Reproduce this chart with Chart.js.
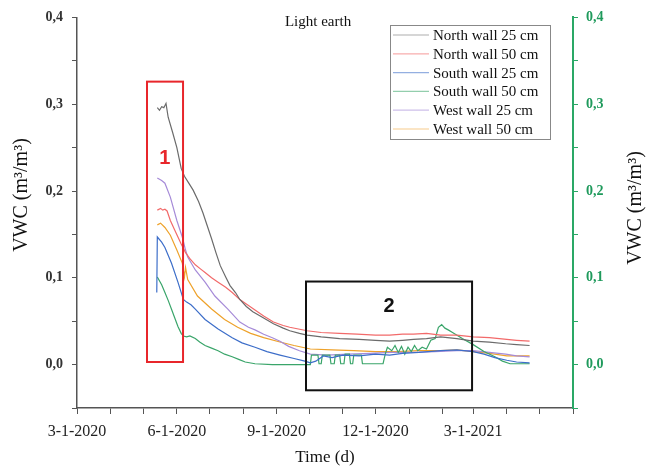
<!DOCTYPE html>
<html>
<head>
<meta charset="utf-8">
<script src="https://cdn.jsdelivr.net/npm/chart.js@4.4.0/dist/chart.umd.min.js"></script>
<style>
    body { margin: 0; background: #fff; }
    #wrap { width: 652px; height: 472px; }
</style>
</head>
<body>
<div id="wrap"><canvas id="myChart" width="652" height="472"></canvas></div>
<script>
// x values are days since 3-1-2020
const seriesNames = ['North wall 25 cm', 'North wall 50 cm', 'South wall 25 cm', 'South wall 50 cm', 'West wall 25 cm', 'West wall 50 cm'];

const northWall25Days = [74, 76, 78, 80, 82, 84, 88, 92, 96, 99, 103, 107, 112, 116, 120, 124, 128, 132, 137, 141, 146, 150, 156, 162, 170, 181, 190, 196, 205, 212, 225, 242, 260, 275, 288, 300, 310, 322, 335, 350, 365, 380, 395, 405, 417];
const northWall25 = [0.296, 0.293, 0.297, 0.296, 0.301, 0.285, 0.268, 0.250, 0.226, 0.217, 0.209, 0.201, 0.188, 0.175, 0.160, 0.145, 0.129, 0.114, 0.101, 0.091, 0.083, 0.075, 0.067, 0.061, 0.055, 0.047, 0.042, 0.039, 0.036, 0.034, 0.032, 0.030, 0.029, 0.028, 0.027, 0.028, 0.029, 0.030, 0.032, 0.030, 0.027, 0.026, 0.024, 0.023, 0.022];

const northWall50Days = [74, 77, 79, 81, 83, 86, 90, 93, 96, 100, 104, 109, 114, 118, 124, 130, 137, 143, 150, 157, 164, 172, 181, 190, 196, 204, 212, 225, 242, 258, 275, 288, 300, 310, 322, 335, 350, 365, 380, 396, 405, 417];
const northWall50 = [0.178, 0.180, 0.178, 0.179, 0.177, 0.166, 0.155, 0.147, 0.139, 0.129, 0.122, 0.115, 0.110, 0.106, 0.100, 0.095, 0.089, 0.083, 0.075, 0.069, 0.063, 0.056, 0.049, 0.045, 0.043, 0.041, 0.039, 0.037, 0.036, 0.035, 0.034, 0.034, 0.035, 0.035, 0.036, 0.034, 0.034, 0.032, 0.031, 0.029, 0.028, 0.027];

const southWall25Days = [73.5, 74, 78, 81, 87, 93, 98, 101, 105, 109, 118, 130, 143, 152, 164, 175, 187, 200, 210, 215, 220, 227, 235, 245, 260, 275, 288, 300, 315, 335, 350, 365, 375, 385, 396, 405, 417];
const southWall25 = [0.083, 0.147, 0.141, 0.135, 0.117, 0.095, 0.075, 0.072, 0.069, 0.064, 0.052, 0.041, 0.031, 0.025, 0.020, 0.015, 0.011, 0.007, 0.004, 0.002, 0.004, 0.010, 0.008, 0.011, 0.010, 0.012, 0.011, 0.013, 0.014, 0.016, 0.017, 0.015, 0.012, 0.008, 0.005, 0.003, 0.002];

const southWall50Days = [74, 78, 81, 84, 87, 90, 93, 96, 98, 101, 104, 109, 113, 118, 124, 130, 136, 143, 149, 155, 164, 180, 200, 214, 215, 216, 222, 223, 225, 226, 233, 234, 237, 238, 242, 243, 246, 247, 251, 252, 254, 255, 262, 263, 282, 284, 286, 290, 293, 296, 299, 302, 305, 308, 311, 314, 318, 322, 326, 330, 333, 336, 339, 342, 346, 355, 365, 375, 385, 392, 399, 410, 417];
const southWall50 = [0.101, 0.092, 0.083, 0.074, 0.064, 0.054, 0.044, 0.036, 0.033, 0.032, 0.033, 0.030, 0.026, 0.022, 0.019, 0.016, 0.012, 0.009, 0.006, 0.003, 0.001, 0.000, 0.000, 0.000, 0.000, 0.011, 0.011, 0.001, 0.001, 0.011, 0.011, 0.001, 0.001, 0.011, 0.011, 0.001, 0.001, 0.012, 0.012, 0.001, 0.001, 0.011, 0.011, 0.001, 0.001, 0.012, 0.020, 0.016, 0.022, 0.014, 0.021, 0.012, 0.020, 0.015, 0.022, 0.016, 0.020, 0.018, 0.028, 0.030, 0.043, 0.046, 0.042, 0.040, 0.037, 0.030, 0.023, 0.015, 0.009, 0.004, 0.001, 0.001, 0.001];

const westWall25Days = [74, 78, 81, 86, 92, 97, 100, 102, 109, 118, 127, 139, 150, 158, 164, 172, 180, 187, 195, 205, 215, 230, 250, 270, 290, 310, 330, 350, 365, 380, 395, 405, 417];
const westWall25 = [0.215, 0.212, 0.209, 0.193, 0.166, 0.147, 0.132, 0.124, 0.109, 0.095, 0.079, 0.064, 0.049, 0.043, 0.040, 0.035, 0.031, 0.027, 0.021, 0.016, 0.012, 0.011, 0.012, 0.013, 0.014, 0.014, 0.015, 0.016, 0.016, 0.014, 0.012, 0.010, 0.009];

const westWall50Days = [74, 77, 81, 86, 92, 97, 99, 100, 102, 111, 124, 136, 148, 160, 172, 187, 200, 215, 235, 255, 275, 295, 315, 335, 350, 365, 380, 396, 405, 417];
const westWall50 = [0.161, 0.163, 0.158, 0.149, 0.132, 0.117, 0.101, 0.112, 0.098, 0.079, 0.064, 0.052, 0.043, 0.036, 0.031, 0.026, 0.022, 0.018, 0.017, 0.016, 0.015, 0.015, 0.016, 0.016, 0.017, 0.015, 0.013, 0.010, 0.010, 0.010];

// month ticks (days since 3-1-2020) and the labelled ones
const monthTicks = [0, 31, 61, 92, 122, 153, 184, 214, 245, 275, 306, 337, 365, 396, 426, 457];
const labelDays = [0, 92, 184, 275, 365];
const tickLabels = ['3-1-2020', '6-1-2020', '9-1-2020', '12-1-2020', '3-1-2021'];

// highlighted regions: [xFrom, xTo, yFrom, yTo] in days / VWC
const region1 = [64.5, 97.7, 0.326, 0.003];
const region2 = [211, 364, 0.0957, -0.0296];

const serif = '"Liberation Serif", "Times New Roman", serif';
const colors = ['#6b6b6b', '#f26a6a', '#3d6ec9', '#3aa56a', '#a68bd8', '#eea22b'];
const yTitle = 'VWC (m³/m³)';

function toPoints(days, vals) {
    return days.map((d, i) => ({ x: d, y: vals[i] }));
}

const allDays = [northWall25Days, northWall50Days, southWall25Days, southWall50Days, westWall25Days, westWall50Days];
const allVals = [northWall25, northWall50, southWall25, southWall50, westWall25, westWall50];

const datasets = seriesNames.map((name, i) => ({
    label: name,
    data: toPoints(allDays[i], allVals[i]),
    borderColor: colors[i],
    borderWidth: 1.2,
    pointRadius: 0,
    tension: 0,
    fill: false,
    yAxisID: i === 3 ? 'y2' : 'y'
}));

function vwcLabel(v) {
    if (Math.abs(v * 10 - Math.round(v * 10)) > 1e-6 || v < -1e-6) return '';
    return v.toFixed(1).replace('.', ',');
}

const extras = {
    id: 'extras',
    afterDatasetsDraw(chart) {
        const ctx = chart.ctx;
        const xs = chart.scales.x, ys = chart.scales.y;
        const drawBox = (r, color) => {
            const x1 = xs.getPixelForValue(r[0]), x2 = xs.getPixelForValue(r[1]);
            const y1 = ys.getPixelForValue(r[2]), y2 = ys.getPixelForValue(r[3]);
            ctx.save();
            ctx.strokeStyle = color;
            ctx.lineWidth = 2;
            ctx.strokeRect(x1, y1, x2 - x1, y2 - y1);
            ctx.restore();
        };
        drawBox(region1, '#e8262b');
        drawBox(region2, '#111');

        ctx.save();
        ctx.font = 'bold 20px "Liberation Sans", Arial, sans-serif';
        ctx.textAlign = 'center';
        ctx.textBaseline = 'middle';
        ctx.fillStyle = '#e8262b';
        ctx.fillText('1', xs.getPixelForValue(81), ys.getPixelForValue(0.237));
        ctx.fillStyle = '#111';
        ctx.fillText('2', xs.getPixelForValue(287.5), ys.getPixelForValue(0.067));
        ctx.restore();
    },
    afterDraw(chart) {
        const ctx = chart.ctx;
        const area = chart.chartArea;
        ctx.save();
        // title
        ctx.font = '15px ' + serif;
        ctx.fillStyle = '#111';
        ctx.textAlign = 'center';
        ctx.textBaseline = 'middle';
        ctx.fillText('Light earth', area.left + (area.right - area.left) * 0.486, 22);

        // axis titles, both read bottom to top
        ctx.font = '20px ' + serif;
        [[22, 195], [636, 208]].forEach(p => {
            ctx.save();
            ctx.translate(p[0], p[1]);
            ctx.rotate(-Math.PI / 2);
            ctx.fillText(yTitle, 0, 0);
            ctx.restore();
        });

        // legend box
        const bx = 390, by = 25, bw = 160, bh = 114;
        ctx.strokeStyle = '#888';
        ctx.lineWidth = 1;
        ctx.strokeRect(bx + 0.5, by + 0.5, bw, bh);
        ctx.font = '15px ' + serif;
        ctx.textAlign = 'left';
        chart.data.datasets.forEach((ds, i) => {
            const y = by + 10 + i * 18.8;
            ctx.globalAlpha = 0.55;
            ctx.strokeStyle = ds.borderColor;
            ctx.lineWidth = 1.2;
            ctx.beginPath();
            ctx.moveTo(bx + 3, y);
            ctx.lineTo(bx + 39, y);
            ctx.stroke();
            ctx.globalAlpha = 1;
            ctx.fillStyle = '#111';
            ctx.fillText(ds.label, bx + 43, y + 1);
        });
        ctx.restore();
    }
};

new Chart(document.getElementById('myChart').getContext('2d'), {
    type: 'line',
    data: { datasets: datasets },
    options: {
        responsive: false,
        animation: false,
        layout: { padding: { top: 13, left: 0, right: 0, bottom: 0 } },
        plugins: {
            legend: { display: false },
            title: { display: false },
            tooltip: { enabled: false }
        },
        scales: {
            x: {
                type: 'linear',
                min: 0,
                max: 457,
                afterBuildTicks: scale => { scale.ticks = monthTicks.map(v => ({ value: v })); },
                afterFit: scale => { scale.height = 64; },
                ticks: {
                    autoSkip: false,
                    maxRotation: 0,
                    padding: 8,
                    color: '#222',
                    font: { family: serif, size: 16 },
                    callback: value => {
                        const i = labelDays.indexOf(value);
                        return i >= 0 ? tickLabels[i] : '';
                    }
                },
                grid: { drawOnChartArea: false, drawTicks: true, tickLength: 6, tickColor: '#555' },
                border: { color: '#555', width: 1.5 },
                title: { display: true, text: 'Time (d)', color: '#111', font: { family: serif, size: 17 }, padding: { top: 0 } }
            },
            y: {
                position: 'left',
                min: -0.05,
                max: 0.4,
                afterFit: scale => { scale.width = 77; },
                ticks: {
                    stepSize: 0.05,
                    padding: 9,
                    color: '#333',
                    font: { family: serif, size: 14, weight: 'bold' },
                    callback: vwcLabel
                },
                grid: { drawOnChartArea: false, drawTicks: true, tickLength: 5, tickColor: '#555' },
                border: { color: '#555', width: 1.5 },
                title: { display: false }
            },
            y2: {
                position: 'right',
                min: -0.05,
                max: 0.4,
                afterFit: scale => { scale.width = 79; },
                ticks: {
                    stepSize: 0.05,
                    padding: 8,
                    color: '#1f9a5c',
                    font: { family: serif, size: 14, weight: 'bold' },
                    callback: vwcLabel
                },
                grid: { drawOnChartArea: false, drawTicks: true, tickLength: 5, tickColor: '#2aa866' },
                border: { color: '#2aa866', width: 2 },
                title: { display: false }
            }
        }
    },
    plugins: [extras]
});
</script>
</body>
</html>
